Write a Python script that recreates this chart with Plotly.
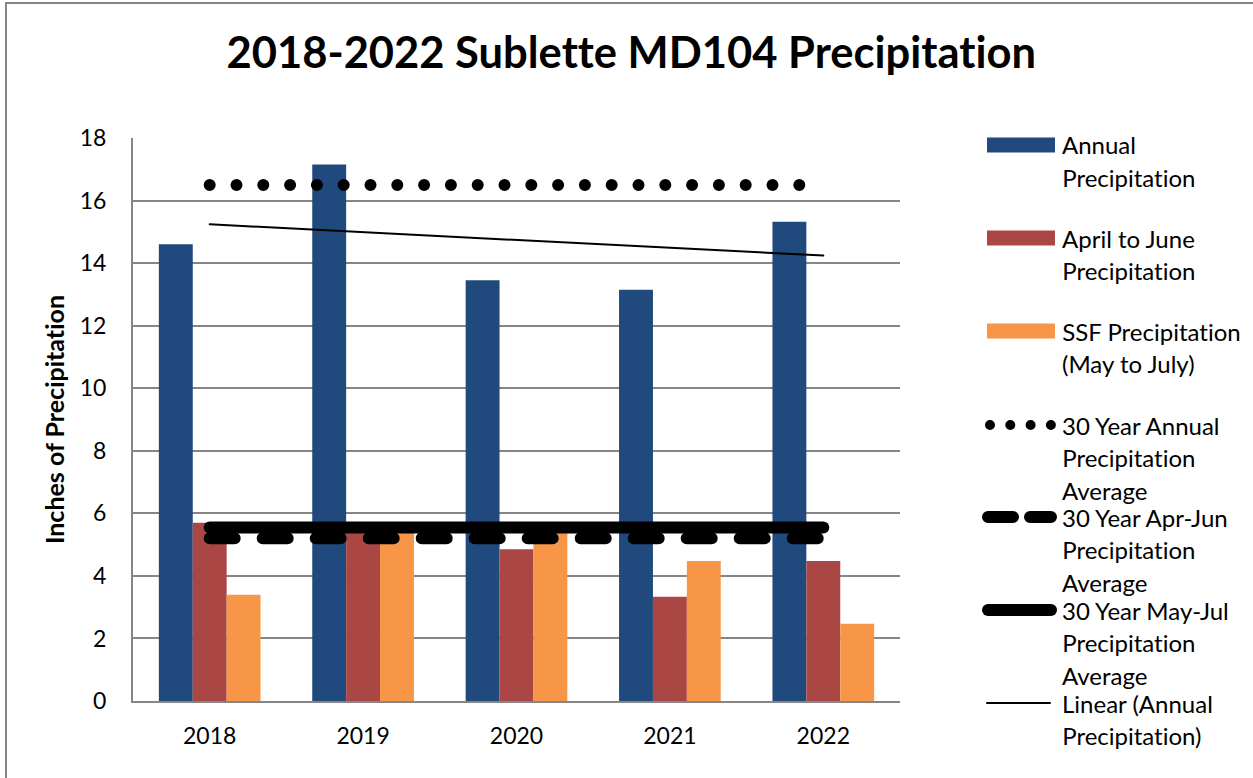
import plotly.graph_objects as go

# ---- data ----
years = ["2018", "2019", "2020", "2021", "2022"]
annual = [14.6, 17.15, 13.45, 13.15, 15.32]
apr_jun = [5.7, 5.4, 4.85, 3.33, 4.48]
ssf_may_jul = [3.4, 5.4, 5.4, 4.48, 2.47]
avg30_annual = 16.5
avg30_apr_jun = 5.2
avg30_may_jul = 5.55
trend_ends = [15.24, 14.24]   # Linear (Annual Precipitation) at first / last year

names = ["Annual Precipitation", "April to June Precipitation", "SSF Precipitation (May to July)",
         "30 Year Annual Precipitation Average", "30 Year Apr-Jun Precipitation Average",
         "30 Year May-Jul Precipitation Average", "Linear (Annual Precipitation)"]

BLUE, RED, ORANGE = "#20497D", "#AA4644", "#F79646"
FONT = "Lato"
W, H = 1253, 778
L, R, T, B = 133, 353, 138, 77

fig = go.Figure()
for vals, col, nm in [(annual, BLUE, names[0]), (apr_jun, RED, names[1]), (ssf_may_jul, ORANGE, names[2])]:
    fig.add_trace(go.Bar(x=years, y=vals, name=nm, marker=dict(color=col, line=dict(width=0)),
                         showlegend=False))

ends = [years[0], years[-1]]
fig.add_trace(go.Scatter(x=ends, y=[avg30_annual] * 2, mode="lines", name=names[3], showlegend=False,
                         line=dict(color="black", width=12, dash="0px,26.8px")))
fig.add_trace(go.Scatter(x=ends, y=[avg30_apr_jun] * 2, mode="lines", name=names[4], showlegend=False,
                         line=dict(color="black", width=12, dash="25px,28px")))
fig.add_trace(go.Scatter(x=ends, y=[avg30_may_jul] * 2, mode="lines", name=names[5], showlegend=False,
                         line=dict(color="black", width=12)))
fig.add_trace(go.Scatter(x=ends, y=trend_ends, mode="lines", name=names[6], showlegend=False,
                         line=dict(color="black", width=2)))

pw, ph = W - L - R, H - T - B
def px(x):
    return (x - L) / pw
def py(y):
    return (H - B - y) / ph

shapes = [dict(type="rect", xref="paper", yref="paper", x0=px(6), x1=px(1300), y0=py(3), y1=py(820),
               line=dict(color="#868686", width=2), fillcolor="rgba(0,0,0,0)", layer="below")]
annotations = []
lg_font = dict(family=FONT, size=24, color="black")

legend_rows = [
    ("rect", BLUE, 145, ["Annual", "Precipitation"]),
    ("rect", RED, 238, ["April to June", "Precipitation"]),
    ("rect", ORANGE, 331, ["SSF Precipitation", "(May to July)"]),
    ("dot", None, 425, ["30 Year Annual", "Precipitation", "Average"]),
    ("dash", None, 517, ["30 Year Apr-Jun", "Precipitation", "Average"]),
    ("solid", None, 610, ["30 Year May-Jul", "Precipitation", "Average"]),
    ("thin", None, 703, ["Linear (Annual", "Precipitation)"]),
]
for kind, col, yc, lines in legend_rows:
    if kind == "rect":
        shapes.append(dict(type="rect", xref="paper", yref="paper", x0=px(987), x1=px(1055),
                           y0=py(yc - 7.5), y1=py(yc + 7.5), fillcolor=col, line=dict(width=0)))
    elif kind == "dot":
        shapes.append(dict(type="line", xref="paper", yref="paper", x0=px(990), x1=px(1051), y0=py(yc), y1=py(yc),
                           line=dict(color="black", width=10, dash="0px,20.3px")))
    elif kind == "dash":
        shapes.append(dict(type="line", xref="paper", yref="paper", x0=px(988), x1=px(1051), y0=py(yc), y1=py(yc),
                           line=dict(color="black", width=12, dash="25px,17px")))
    elif kind == "solid":
        shapes.append(dict(type="line", xref="paper", yref="paper", x0=px(988), x1=px(1051), y0=py(yc), y1=py(yc),
                           line=dict(color="black", width=12)))
    else:
        shapes.append(dict(type="line", xref="paper", yref="paper", x0=px(987), x1=px(1050), y0=py(yc), y1=py(yc),
                           line=dict(color="black", width=2)))
    for i, t in enumerate(lines):
        annotations.append(dict(xref="paper", yref="paper", x=px(1060), y=py(yc + 32.7 * i), text=t,
                                showarrow=False, xanchor="left", yanchor="middle", font=lg_font))

annotations.append(dict(xref="paper", yref="paper", x=px(631), y=py(51), text="<b>2018-2022 Sublette MD104 Precipitation</b>",
                        showarrow=False, xanchor="center", yanchor="middle",
                        font=dict(family=FONT, size=43.5, color="black")))

fig.update_layout(
    width=W, height=H,
    margin=dict(l=L, r=R, t=T, b=B, pad=0),
    paper_bgcolor="white", plot_bgcolor="white",
    barmode="group", bargap=0.337, bargroupgap=0,
    showlegend=False, hovermode=False,
    shapes=shapes, annotations=annotations,
    font=dict(family=FONT, color="black"),
)
fig.update_xaxes(type="category", showgrid=False, showline=True, linecolor="#868686", linewidth=2,
                 ticks="", tickfont=dict(family=FONT, size=23, color="black"), ticklabelstandoff=13)
fig.update_yaxes(range=[0, 18], dtick=2, showgrid=True, gridcolor="#868686", gridwidth=2,
                 showline=True, linecolor="#868686", linewidth=2, zeroline=False, ticks="",
                 tickfont=dict(family=FONT, size=23, color="black"), ticklabelstandoff=20,
                 title=dict(text="<b>Inches of Precipitation</b>", font=dict(family=FONT, size=25, color="black"),
                            standoff=8))

post = """
document.body.style.margin = '0';
var gd = document.getElementById('{plot_id}');
function fixup(){
  gd.querySelectorAll('.scatterlayer .js-line, .shapelayer path').forEach(function(p){
    p.style.strokeLinecap = 'round';
  });
  gd.querySelectorAll('text').forEach(function(t){
    t.style.fontVariantLigatures = 'none';
  });
}
fixup();
if (gd.on) { gd.on('plotly_afterplot', fixup); }
setTimeout(fixup, 50);
"""
fig.write_html("out.html", post_script=post, config={"displayModeBar": False})
